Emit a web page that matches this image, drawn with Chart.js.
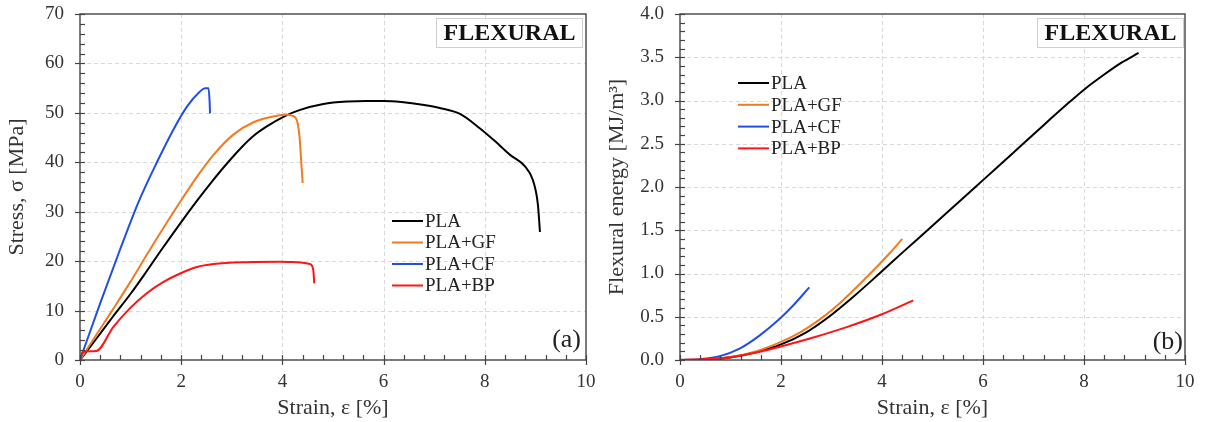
<!DOCTYPE html>
<html>
<head>
<meta charset="utf-8">
<script src="https://cdn.jsdelivr.net/npm/chart.js@4/dist/chart.umd.min.js"></script>
<style>
  html, body { margin: 0; padding: 0; background: #ffffff; }
  #wrap { position: relative; width: 1205px; height: 422px; overflow: hidden; }
  canvas { position: absolute; top: 0; }
</style>
</head>
<body>
<div id="wrap">
  <canvas id="stressChart" width="600" height="422" style="left:0px"></canvas>
  <canvas id="energyChart" width="605" height="422" style="left:600px"></canvas>
</div>
<script>
// ---- Series names and colours ----
const seriesNames = ['PLA', 'PLA+GF', 'PLA+CF', 'PLA+BP'];
const seriesColors = ['#000000', '#f27a21', '#1f4fe6', '#ff1414'];

// ---- (a) Stress–strain curves: strain [%] and stress [MPa] ----
const strainPLA_a = [0, 0.33, 0.66, 1.0, 1.3, 1.61, 2.0, 2.31, 2.6, 2.9, 3.2, 3.45, 3.7, 4.04, 4.35, 4.81, 5.3, 5.65, 6.0, 6.35, 6.8, 7.11, 7.51, 7.9, 8.2, 8.5, 8.79, 8.95, 9.05, 9.09];
const stressPLA   = [0, 4.4, 8.9, 13.4, 17.7, 22.3, 27.9, 32.2, 36.0, 39.7, 43.1, 45.5, 47.3, 49.3, 50.6, 51.8, 52.3, 52.4, 52.4, 52.2, 51.6, 51.0, 49.8, 46.9, 44.3, 41.5, 39.2, 36.4, 31.4, 25.9];

const strainGF_a = [0, 0.33, 0.66, 0.99, 1.35, 1.98, 2.3, 2.63, 3.03, 3.43, 3.89, 4.08, 4.2, 4.25, 4.3, 4.34, 4.37, 4.4];
const stressGF   = [0, 5.2, 10.4, 15.7, 21.8, 32.0, 36.9, 41.4, 45.6, 48.1, 49.4, 49.6, 49.4, 49.1, 48.0, 45.0, 40.5, 35.8];

const strainCF_a = [0, 0.4, 0.79, 1.15, 1.52, 1.84, 2.11, 2.37, 2.47, 2.54, 2.56, 2.57];
const stressCF   = [0, 11.5, 22.3, 31.8, 40.0, 46.5, 51.2, 54.3, 55.0, 55.0, 52.6, 49.9];

const strainBP_a = [0, 0.05, 0.32, 0.66, 0.99, 1.32, 1.65, 1.98, 2.31, 2.64, 3.29, 3.95, 4.28, 4.55, 4.61, 4.63];
const stressBP   = [0, 1.6, 1.8, 6.7, 10.5, 13.5, 15.8, 17.5, 18.8, 19.4, 19.8, 19.9, 19.8, 19.4, 18.2, 15.5];

// ---- (b) Flexural energy: strain [%] and energy [MJ/m3] ----
const strainPLA_b = [0, 0.5, 1.0, 1.5, 2.0, 2.5, 2.95, 3.45, 3.95, 4.42, 4.9, 5.3, 5.8, 6.25, 6.74, 7.2, 7.69, 8.0, 8.4, 8.75, 9.08];
const energyPLA   = [0, 0.003, 0.03, 0.09, 0.18, 0.32, 0.5, 0.74, 1.0, 1.25, 1.5, 1.71, 1.975, 2.21, 2.47, 2.715, 2.97, 3.125, 3.3, 3.44, 3.55];

const strainGF_b = [0, 0.5, 1.0, 1.5, 2.0, 2.38, 2.77, 3.17, 3.7, 4.16, 4.4];
const energyGF   = [0, 0.004, 0.035, 0.1, 0.21, 0.32, 0.47, 0.66, 0.96, 1.24, 1.40];

const strainCF_b = [0, 0.4, 0.79, 1.19, 1.58, 1.98, 2.24, 2.56];
const energyCF   = [0, 0.01, 0.045, 0.135, 0.285, 0.48, 0.63, 0.84];

const strainBP_b = [0, 0.79, 1.19, 1.58, 1.98, 2.64, 3.30, 3.96, 4.62];
const energyBP   = [0, 0.02, 0.05, 0.096, 0.154, 0.26, 0.38, 0.52, 0.69];

// ---- Axis ticks ----
const xTickValues = [0, 2, 4, 6, 8, 10];
const stressTickValues = [0, 10, 20, 30, 40, 50, 60, 70];
const energyTickValues = [0, 0.5, 1.0, 1.5, 2.0, 2.5, 3.0, 3.5, 4.0];

const SERIF = "'Liberation Serif', 'Times New Roman', serif";
const INK = '#333333';

function toPoints(xs, ys) { return xs.map((x, i) => ({ x: x, y: ys[i] })); }

function buildDatasets(pairs) {
  return pairs.map((p, i) => ({
    label: seriesNames[i],
    data: toPoints(p[0], p[1]),
    borderColor: seriesColors[i],
    backgroundColor: seriesColors[i],
    borderWidth: 2,
    pointRadius: 0,
    showLine: true,
    fill: false,
    cubicInterpolationMode: 'monotone'
  })).reverse();
}

// Frame, dashed grid, inner/outer tick marks, legend, label box and panel letter
const decor = {
  id: 'decor',
  beforeDatasetsDraw(chart, args, o) {
    const { ctx, chartArea: ca, scales: { x, y } } = chart;
    ctx.save();
    ctx.strokeStyle = '#d9d9d9';
    ctx.lineWidth = 1;
    ctx.setLineDash([4, 3]);
    o.xMajor.forEach(v => {
      if (v <= x.min || v >= x.max) return;
      const px = Math.round(x.getPixelForValue(v)) + 0.5;
      ctx.beginPath(); ctx.moveTo(px, ca.top); ctx.lineTo(px, ca.bottom); ctx.stroke();
    });
    o.yMajor.forEach(v => {
      if (v <= y.min || v >= y.max) return;
      const py = Math.round(y.getPixelForValue(v)) + 0.5;
      ctx.beginPath(); ctx.moveTo(ca.left, py); ctx.lineTo(ca.right, py); ctx.stroke();
    });
    ctx.restore();
  },
  afterDatasetsDraw(chart, args, o) {
    const { ctx, chartArea: ca, scales: { x, y } } = chart;
    ctx.save();
    ctx.strokeStyle = '#444444';
    ctx.lineWidth = 1.4;
    ctx.setLineDash([]);
    ctx.strokeRect(ca.left, ca.top, ca.right - ca.left, ca.bottom - ca.top);
    ctx.lineWidth = 1.2;
    // x ticks: majors cross the axis, minors point inward
    const nx = Math.round((x.max - x.min) / o.xMinor);
    for (let i = 0; i <= nx; i++) {
      const v = x.min + i * o.xMinor;
      const px = Math.round(x.getPixelForValue(v)) + 0.5;
      const major = i % o.xPer === 0;
      ctx.beginPath();
      ctx.moveTo(px, ca.bottom + (major ? 5 : 0));
      ctx.lineTo(px, ca.bottom - 5);
      ctx.stroke();
    }
    // y ticks
    const ny = Math.round((y.max - y.min) / o.yMinor);
    for (let i = 0; i <= ny; i++) {
      const v = y.min + i * o.yMinor;
      const py = Math.round(y.getPixelForValue(v)) + 0.5;
      const major = i % o.yPer === 0;
      ctx.beginPath();
      ctx.moveTo(ca.left - (major ? 5 : 0), py);
      ctx.lineTo(ca.left + 5, py);
      ctx.stroke();
    }
    ctx.restore();
  },
  afterDraw(chart, args, o) {
    const { ctx, chartArea: ca } = chart;
    ctx.save();
    // label box
    const bx = ca.right - o.boxRight - o.boxW, by = ca.top + o.boxTop;
    ctx.fillStyle = '#ffffff';
    ctx.fillRect(bx, by, o.boxW, o.boxH);
    ctx.strokeStyle = '#cfcfcf';
    ctx.lineWidth = 1;
    ctx.strokeRect(bx + 0.5, by + 0.5, o.boxW - 1, o.boxH - 1);
    ctx.fillStyle = '#111111';
    ctx.font = 'bold 24px ' + SERIF;
    ctx.textAlign = 'center';
    ctx.textBaseline = 'middle';
    ctx.fillText(o.tag, bx + o.boxW / 2, by + o.boxH / 2 + 1);
    // panel letter
    ctx.font = '26px ' + SERIF;
    ctx.textAlign = 'right';
    ctx.fillStyle = '#222222';
    ctx.fillText(o.letter, ca.right - o.letterRight, ca.bottom - o.letterUp);
    // legend
    const ds = chart.data.datasets.slice().reverse();
    ctx.font = '19px ' + SERIF;
    ctx.textAlign = 'left';
    ctx.textBaseline = 'middle';
    ds.forEach((d, i) => {
      const yy = o.legY + i * o.legGap;
      ctx.strokeStyle = d.borderColor;
      ctx.lineWidth = 2;
      ctx.beginPath(); ctx.moveTo(o.legX0, yy); ctx.lineTo(o.legX1, yy); ctx.stroke();
      ctx.fillStyle = '#222222';
      ctx.fillText(d.label, o.legX1 + 2, yy + 1);
    });
    ctx.restore();
  }
};

function makeChart(id, pairs, yTicks, yMinor, yFmt, yTitle, padRight, deco) {
  const yMax = yTicks[yTicks.length - 1];
  return new Chart(document.getElementById(id), {
    type: 'scatter',
    data: { datasets: buildDatasets(pairs) },
    options: {
      responsive: false,
      animation: false,
      events: [],
      layout: { padding: { top: 14, right: padRight, bottom: 0, left: 0 } },
      scales: {
        x: {
          type: 'linear', min: xTickValues[0], max: xTickValues[xTickValues.length - 1],
          afterBuildTicks: s => { s.ticks = xTickValues.map(v => ({ value: v })); },
          ticks: { color: INK, font: { family: SERIF, size: 19 }, padding: 2, maxRotation: 0, autoSkip: false },
          grid: { display: false, drawTicks: true, tickLength: 9 },
          border: { display: false },
          title: { display: true, text: 'Strain, ε [%]', color: INK, font: { family: SERIF, size: 22 }, padding: { top: 0, bottom: 1 } },
          afterFit: s => { s.height = 62; }
        },
        y: {
          type: 'linear', min: yTicks[0], max: yMax,
          afterBuildTicks: s => { s.ticks = yTicks.map(v => ({ value: v })); },
          ticks: { color: INK, font: { family: SERIF, size: 19 }, padding: 2, autoSkip: false, callback: v => yFmt(v) },
          grid: { display: false, drawTicks: true, tickLength: 14 },
          border: { display: false },
          title: { display: true, text: yTitle, color: INK, font: { family: SERIF, size: 22 }, padding: { top: 4, bottom: 0 } },
          afterFit: s => { s.width = 80; }
        }
      },
      plugins: {
        legend: { display: false },
        tooltip: { enabled: false },
        decor: Object.assign({
          xMajor: xTickValues, yMajor: yTicks,
          xMinor: 0.4, xPer: 5, yMinor: yMinor, yPer: 5
        }, deco)
      }
    },
    plugins: [decor]
  });
}

makeChart('stressChart',
  [[strainPLA_a, stressPLA], [strainGF_a, stressGF], [strainCF_a, stressCF], [strainBP_a, stressBP]],
  stressTickValues, 2, v => String(v), 'Stress, σ [MPa]', 14,
  { tag: 'FLEXURAL', boxRight: 3, boxTop: 4, boxW: 147, boxH: 30,
    letter: '(a)', letterRight: 5, letterUp: 20,
    legX0: 392, legX1: 423, legY: 221, legGap: 21.5 });

makeChart('energyChart',
  [[strainPLA_b, energyPLA], [strainGF_b, energyGF], [strainCF_b, energyCF], [strainBP_b, energyBP]],
  energyTickValues, 0.1, v => Number(v).toFixed(1), 'Flexural energy [MJ/m³]', 20,
  { tag: 'FLEXURAL', boxRight: 1, boxTop: 4, boxW: 147, boxH: 30,
    letter: '(b)', letterRight: 2, letterUp: 18,
    legX0: 138, legX1: 169, legY: 83, legGap: 21.8 });
</script>
</body>
</html>
